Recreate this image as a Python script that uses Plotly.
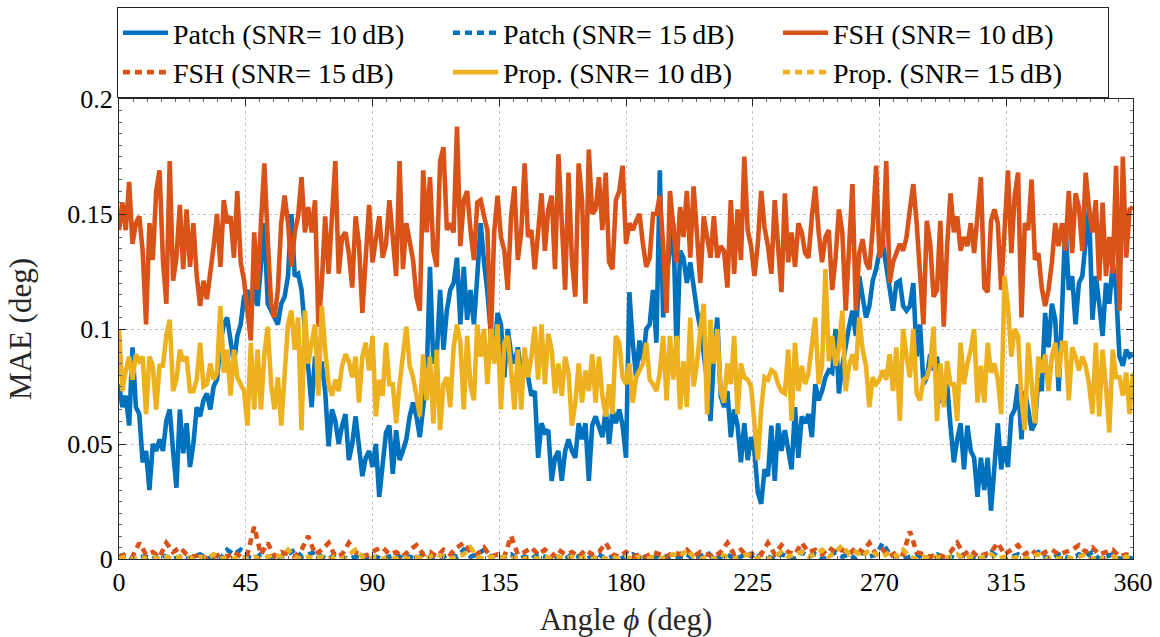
import numpy as np
import plotly.graph_objects as go

# ---------------- data (MAE in deg) ----------------
angles_10db = np.linspace(0, 360, 301)   # 1.2 deg sampling
angles_15db = np.linspace(0, 360, 151)   # 2.4 deg sampling

patch_10db = [
    0.076,0.066,0.071,0.058,0.092,0.066,0.063,0.042,0.047,0.030,
    0.050,0.047,0.052,0.047,0.060,0.065,0.047,0.031,0.065,0.046,
    0.059,0.040,0.050,0.066,0.062,0.069,0.072,0.065,0.075,0.078,
    0.094,0.102,0.105,0.094,0.085,0.097,0.102,0.114,0.117,0.105,
    0.120,0.110,0.127,0.146,0.111,0.108,0.105,0.102,0.111,0.114,
    0.123,0.150,0.123,0.124,0.117,0.100,0.081,0.066,0.088,0.085,
    0.085,0.073,0.049,0.065,0.060,0.050,0.058,0.063,0.043,0.050,
    0.062,0.047,0.036,0.044,0.047,0.040,0.050,0.027,
    0.039,0.055,0.058,0.037,0.056,0.043,0.047,0.052,0.062,0.068,
    0.062,0.053,0.066,0.078,0.127,0.085,0.088,0.117,0.091,0.108,
    0.117,0.120,0.131,0.102,0.127,0.104,0.117,0.102,0.123,0.146,
    0.129,0.116,0.098,0.088,0.107,0.102,0.079,0.100,0.089,0.085,
    0.092,0.081,0.088,0.078,0.071,0.073,0.044,
    0.059,0.055,0.056,0.034,0.044,0.047,0.034,0.047,0.052,0.047,
    0.044,0.059,0.052,0.059,0.034,0.058,0.062,0.058,0.053,0.065,
    0.050,0.065,0.059,0.065,0.058,0.044,0.116,0.094,0.079,0.095,
    0.086,0.100,0.102,0.117,0.094,
    0.169,0.105,0.123,0.134,0.146,0.088,0.134,0.131,0.120,0.129,
    0.117,0.108,0.100,0.088,0.078,0.060,0.088,0.105,0.071,0.066,
    0.073,0.053,0.065,0.058,0.042,0.059,0.043,0.053,0.047,0.029,
    0.024,0.039,0.036,0.058,0.034,0.059,0.047,0.056,0.047,0.039,
    0.066,0.044,0.062,0.059,0.063,0.053,0.076,0.069,0.073,0.079,
    0.082,0.081,0.100,0.072,0.084,0.094,0.101,0.108,0.097,0.123,
    0.114,0.105,0.110,0.121,0.126,0.134,0.137,0.127,0.118,0.108,0.120,
    0.121,0.110,0.108,0.110,0.120,0.088,0.102,0.076,0.079,0.089,
    0.082,0.088,0.068,0.071,0.076,0.058,0.042,0.052,0.059,0.039,
    0.058,0.047,0.044,0.027,0.044,0.030,0.044,0.021,0.040,0.059,
    0.039,0.049,0.040,0.062,0.065,0.076,0.052,0.073,0.065,0.056,
    0.059,0.079,0.073,0.107,0.092,0.111,0.104,0.073,0.108,0.146,
    0.117,0.123,0.102,0.120,0.123,0.139,0.153,0.104,0.123,0.111,
    0.097,0.120,0.111,0.129,0.117,0.088,0.084,0.091,0.088,0.089,
]

fsh_10db = [
    0.143,0.155,0.143,0.164,0.137,0.146,0.149,0.134,0.102,0.146,
    0.130,0.160,0.169,0.130,0.111,0.173,0.121,0.131,0.154,0.126,
    0.152,0.127,0.146,0.123,0.110,0.121,0.113,0.123,0.136,0.150,
    0.127,0.156,0.146,0.149,0.131,0.160,0.129,0.121,0.108,0.095,
    0.142,0.117,0.146,0.172,0.139,0.111,0.105,0.117,0.146,0.158,
    0.146,0.127,0.142,0.149,0.166,0.142,0.153,0.142,0.156,0.101,
    0.120,0.149,0.124,0.146,0.173,0.124,0.140,0.142,0.133,0.118,
    0.149,0.137,0.107,0.131,0.154,0.129,0.140,0.149,
    0.131,0.137,0.156,0.139,0.123,0.173,0.126,0.146,0.139,0.130,
    0.114,0.108,0.169,0.142,0.166,0.134,0.127,0.173,0.179,0.143,
    0.146,0.142,0.188,0.136,0.156,0.160,0.143,0.130,0.155,0.156,
    0.149,0.143,0.095,0.142,0.158,0.140,0.134,0.117,0.149,0.162,
    0.130,0.142,0.172,0.140,0.143,0.126,0.142,
    0.159,0.134,0.152,0.158,0.126,0.176,0.149,0.117,0.168,0.130,
    0.114,0.172,0.156,0.111,0.178,0.150,0.152,0.166,0.143,0.168,
    0.129,0.126,0.156,0.160,0.171,0.137,0.146,0.143,0.147,0.150,
    0.137,0.127,0.131,0.150,0.150,
    0.158,0.136,0.107,0.160,0.143,0.129,0.153,0.140,0.160,0.131,
    0.162,0.137,0.120,0.149,0.140,0.131,0.149,0.131,0.136,0.134,
    0.118,0.156,0.124,0.152,0.130,0.175,0.143,0.136,0.123,0.137,
    0.160,0.144,0.136,0.124,0.156,0.133,0.116,0.159,0.129,0.142,
    0.127,0.146,0.142,0.133,0.131,0.149,0.162,0.142,0.129,0.140,
    0.143,0.117,0.131,0.152,0.142,0.108,0.139,0.163,0.108,0.133,
    0.139,0.129,0.126,0.144,0.171,0.131,0.136,0.173,0.120,0.129,0.133,
    0.137,0.134,0.140,0.152,0.163,0.146,0.127,0.102,0.147,0.137,
    0.114,0.117,0.147,0.101,0.136,0.159,0.142,0.149,0.134,0.140,
    0.136,0.146,0.133,0.152,0.166,0.118,0.116,0.147,0.152,0.146,
    0.117,0.143,0.169,0.133,0.158,0.168,0.105,0.146,0.143,0.165,
    0.130,0.133,0.118,0.110,0.117,0.129,0.146,0.136,0.146,0.134,
    0.160,0.133,0.159,0.153,0.134,0.168,0.152,0.142,0.156,0.121,
    0.155,0.123,0.140,0.124,0.171,0.108,0.175,0.131,0.152,0.153,
]

prop_10db = [
    0.100,0.073,0.082,0.088,0.078,0.089,0.086,0.088,0.063,0.088,
    0.084,0.065,0.084,0.084,0.097,0.104,0.073,0.078,0.091,0.086,
    0.088,0.073,0.073,0.078,0.094,0.075,0.076,0.085,0.078,0.081,
    0.110,0.081,0.091,0.071,0.091,0.079,0.076,0.073,0.058,0.094,
    0.065,0.091,0.065,0.089,0.101,0.076,0.065,0.079,0.058,0.079,
    0.102,0.108,0.091,0.105,0.056,0.108,0.085,0.094,0.102,0.071,
    0.110,0.091,0.076,0.071,0.078,0.073,0.084,0.089,0.086,0.079,
    0.088,0.068,0.088,0.094,0.082,0.097,0.062,0.078,
    0.071,0.094,0.076,0.076,0.059,0.076,0.089,0.101,0.084,0.079,
    0.071,0.062,0.089,0.069,0.088,0.059,0.091,0.056,0.076,0.079,
    0.066,0.092,0.102,0.094,0.065,0.097,0.075,0.069,0.102,0.088,
    0.100,0.076,0.100,0.085,0.102,0.065,0.094,0.097,0.082,0.065,
    0.091,0.065,0.092,0.079,0.088,0.101,0.078,
    0.102,0.076,0.098,0.091,0.072,0.085,0.071,0.088,0.081,0.058,
    0.068,0.085,0.068,0.082,0.073,0.089,0.068,0.088,0.071,0.062,
    0.076,0.063,0.097,0.094,0.079,0.076,0.085,0.068,0.079,0.082,
    0.085,0.094,0.078,0.076,0.073,
    0.081,0.097,0.069,0.097,0.078,0.097,0.065,0.086,0.066,0.105,
    0.075,0.085,0.100,0.111,0.063,0.104,0.085,0.100,0.073,0.068,
    0.085,0.076,0.097,0.063,0.085,0.079,0.078,0.075,0.059,0.043,
    0.065,0.079,0.078,0.082,0.081,0.076,0.073,0.072,0.091,0.060,
    0.094,0.073,0.084,0.076,0.081,0.094,0.105,0.076,0.084,0.126,
    0.086,0.097,0.084,0.092,0.108,0.073,0.084,0.089,0.082,0.105,
    0.091,0.084,0.066,0.079,0.076,0.078,0.082,0.078,0.089,0.073,0.092,
    0.060,0.100,0.088,0.079,0.100,0.072,0.069,0.078,0.079,0.084,
    0.101,0.060,0.085,0.066,0.086,0.076,0.076,0.060,0.094,0.076,
    0.085,0.091,0.100,0.068,0.084,0.068,0.094,0.081,0.085,0.078,
    0.063,0.123,0.110,0.088,0.100,0.097,0.069,0.056,0.094,0.073,
    0.059,0.088,0.081,0.089,0.073,0.088,0.094,0.079,0.094,0.094,
    0.069,0.092,0.088,0.082,0.088,0.084,0.076,0.063,0.094,0.062,
    0.091,0.075,0.055,0.091,0.079,0.079,0.071,0.081,0.063,0.081,
]

patch_15db = [
    0.001,0.002,0.000,0.001,0.001,0.000,0.002,0.001,0.000,0.001,
    0.000,0.001,0.002,0.000,0.001,0.000,0.004,0.002,0.004,0.001,
    0.000,0.002,0.001,0.000,0.001,0.002,0.004,0.001,0.002,0.003,
    0.001,0.000,0.002,0.001,0.000,0.001,0.002,0.000,0.001,0.000,
    0.001,0.002,0.000,0.001,0.000,0.002,0.001,0.000,0.001,0.002,
    0.001,0.004,0.001,0.002,0.004,0.001,0.000,0.001,0.002,0.000,
    0.001,0.000,0.002,0.001,0.000,0.001,0.000,0.002,0.001,0.000,
    0.001,0.002,0.000,0.001,0.000,0.001,0.002,0.000,0.001,0.000,
    0.002,0.001,0.000,0.001,0.002,0.000,0.001,0.003,0.000,0.001,
    0.002,0.000,0.001,0.003,0.000,0.002,0.001,0.000,0.002,0.001,
    0.000,0.003,0.001,0.002,0.000,0.001,0.003,0.001,0.002,0.000,
    0.003,0.001,0.002,0.007,0.002,0.001,0.000,0.001,0.002,0.000,
    0.001,0.002,0.000,0.001,0.000,0.002,0.001,0.000,0.001,0.003,
    0.001,0.000,0.001,0.002,0.000,0.001,0.003,0.001,0.000,0.002,
    0.001,0.000,0.002,0.001,0.003,0.000,0.001,0.002,0.000,0.001,0.000,
]

fsh_15db = [
    0.001,0.002,0.001,0.007,0.002,0.003,0.001,0.007,0.003,0.005,
    0.002,0.001,0.002,0.000,0.001,0.002,0.001,0.003,0.001,0.002,
    0.014,0.002,0.007,0.001,0.003,0.002,0.001,0.004,0.010,0.002,
    0.004,0.007,0.001,0.002,0.007,0.003,0.001,0.002,0.004,0.005,
    0.002,0.003,0.001,0.004,0.006,0.002,0.003,0.001,0.004,0.002,
    0.005,0.007,0.003,0.002,0.005,0.001,0.002,0.001,0.010,0.002,
    0.003,0.005,0.002,0.004,0.001,0.004,0.002,0.003,0.001,0.004,
    0.002,0.003,0.007,0.002,0.001,0.003,0.001,0.002,0.001,0.003,
    0.002,0.001,0.003,0.002,0.004,0.001,0.003,0.002,0.001,0.003,
    0.007,0.002,0.004,0.001,0.003,0.002,0.007,0.002,0.006,0.003,
    0.002,0.007,0.003,0.004,0.002,0.005,0.003,0.004,0.002,0.005,
    0.003,0.007,0.002,0.004,0.001,0.003,0.002,0.012,0.003,0.002,
    0.001,0.002,0.001,0.003,0.007,0.002,0.004,0.001,0.002,0.003,
    0.007,0.002,0.004,0.006,0.002,0.004,0.001,0.003,0.004,0.002,
    0.003,0.004,0.006,0.003,0.005,0.002,0.003,0.004,0.001,0.002,0.001,
]

prop_15db = [
    0.000,0.001,0.000,0.001,0.000,0.001,0.000,0.001,0.000,0.001,
    0.001,0.000,0.001,0.000,0.002,0.000,0.001,0.000,0.001,0.000,
    0.001,0.000,0.001,0.002,0.001,0.004,0.001,0.000,0.001,0.000,
    0.001,0.000,0.001,0.000,0.002,0.004,0.001,0.000,0.001,0.000,
    0.001,0.000,0.001,0.000,0.001,0.000,0.001,0.002,0.001,0.000,
    0.001,0.002,0.005,0.001,0.000,0.001,0.000,0.001,0.000,0.001,
    0.000,0.001,0.000,0.001,0.000,0.001,0.000,0.001,0.000,0.001,
    0.000,0.001,0.000,0.001,0.000,0.001,0.000,0.001,0.000,0.001,
    0.000,0.001,0.002,0.001,0.004,0.001,0.000,0.001,0.000,0.002,
    0.001,0.000,0.001,0.002,0.000,0.001,0.000,0.001,0.003,0.001,
    0.002,0.003,0.001,0.002,0.004,0.001,0.003,0.006,0.002,0.003,
    0.001,0.004,0.002,0.001,0.003,0.001,0.004,0.001,0.000,0.001,
    0.000,0.001,0.000,0.001,0.002,0.000,0.001,0.000,0.001,0.002,
    0.000,0.001,0.000,0.001,0.000,0.001,0.002,0.000,0.001,0.000,
    0.001,0.000,0.001,0.002,0.000,0.001,0.000,0.001,0.000,0.001,0.000,
]

x_ticks = [0, 45, 90, 135, 180, 225, 270, 315, 360]
y_ticks = [0, 0.05, 0.1, 0.15, 0.2]
y_tick_labels = ["0", "0.05", "0.1", "0.15", "0.2"]

# ---------------- styling ----------------
BLUE, ORANGE, YELLOW = "#0072BD", "#D95319", "#EDB120"
FONT = "Liberation Serif"
TXT = "#262626"
DOTS = "7px,5px"

series = [
    ("Patch (SNR= 10\u2009dB)", angles_10db, patch_10db, BLUE, "solid"),
    ("Patch (SNR= 15\u2009dB)", angles_15db, patch_15db, BLUE, DOTS),
    ("FSH (SNR= 10\u2009dB)", angles_10db, fsh_10db, ORANGE, "solid"),
    ("FSH (SNR= 15\u2009dB)", angles_15db, fsh_15db, ORANGE, DOTS),
    ("Prop. (SNR= 10\u2009dB)", angles_10db, prop_10db, YELLOW, "solid"),
    ("Prop. (SNR= 15\u2009dB)", angles_15db, prop_15db, YELLOW, DOTS),
]

fig = go.Figure()
for name, xs, ys, col, dash in series:
    fig.add_trace(go.Scatter(
        x=xs, y=ys, mode="lines", name=name,
        line=dict(color=col, width=4.6, dash=dash),
    ))

axis_common = dict(
    showline=True, linecolor=TXT, linewidth=1.2, mirror="ticks",
    ticks="inside", ticklen=7, tickwidth=1, tickcolor=TXT,
    showgrid=True, gridcolor="#c4c4c4", griddash="dot", gridwidth=1,
    zeroline=False,
    tickfont=dict(family=FONT, size=26, color="#000000"),
)

fig.update_xaxes(
    range=[0, 360], tickvals=x_ticks,
    title=dict(text="Angle <i>\u03d5</i> (deg)", font=dict(family=FONT, size=31, color=TXT), standoff=17),
    minor=dict(ticks="inside", ticklen=3, dtick=5, tickcolor="#666666", showgrid=False),
    **axis_common,
)
fig.update_yaxes(
    range=[0, 0.2], tickvals=y_ticks, ticktext=y_tick_labels,
    title=dict(text="MAE (deg)", font=dict(family=FONT, size=31, color=TXT), standoff=26),
    minor=dict(ticks="inside", ticklen=3, dtick=0.005, tickcolor="#666666", showgrid=False),
    **axis_common,
)

fig.update_layout(
    width=1160, height=637,
    margin=dict(l=119, r=27, t=99, b=78, autoexpand=False),
    paper_bgcolor="white", plot_bgcolor="white",
    showlegend=True,
    legend=dict(
        orientation="h",
        x=-0.002, xanchor="left", y=1.2, yanchor="top",
        entrywidth=270, entrywidthmode="pixels",
        font=dict(family=FONT, size=28, color="#000000"),
        bgcolor="white", bordercolor=TXT, borderwidth=1,
        traceorder="normal", itemwidth=45,
        tracegroupgap=0,
    ),
)

fig.write_html("out.html")
